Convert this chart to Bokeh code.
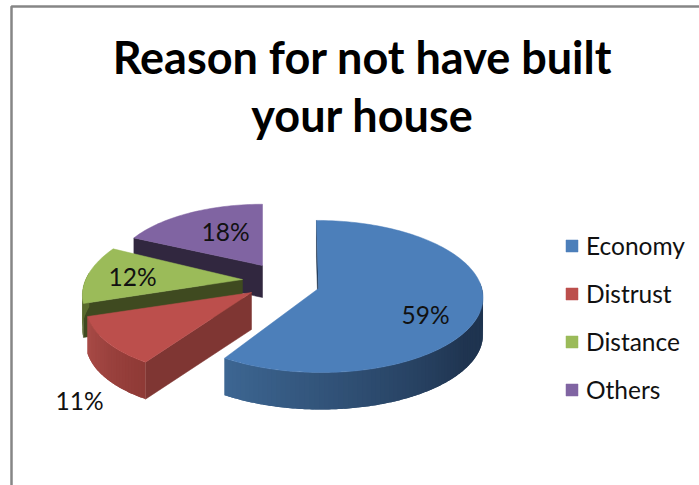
import math
from bokeh.plotting import figure
from bokeh.models import Range1d, Legend, LegendItem
from bokeh.core.properties import value
from bokeh.embed import file_html
from bokeh.resources import INLINE

# data
categories = ["Economy", "Distrust", "Distance", "Others"]
shares = [59, 11, 12, 18]
title_lines = ["Reason for not have built", "your house"]

# styles and layout
top_colors = ["#4C7FBA", "#BC4F4C", "#9BBB59", "#8064A2"]
edge_colors = ["#1D3149", "#7F3633", "#3F4A20", "#31273F"]
wall_from = ["#1F3450", "#8F3A36", "#5A6B2E", "#31273F"]
wall_to = ["#3D6692", "#A94B47", "#5A6B2E", "#31273F"]
apex_x = [318, 251, 242, 262]
apex_y = [288, 292, 279, 265]
scale_x = [0.99, 0.99, 0.95, 0.90]
scale_y = [1.0, 1.0, 1.0, 0.90]
shear = [0.03, -0.143, -0.21, 0.0]
depth = [37, 37, 34, 32]
label_pos = [(425, 314), (79, 400), (132, 276), (225, 231)]
RX, RY, PERSP = 165.0, 75.2, 0.105
FONT = "Lato"

W, H = 699, 485
p = figure(width=W, height=H, x_range=Range1d(0, W), y_range=Range1d(H, 0),
           output_backend="svg", toolbar_location=None, min_border=0)
p.margin = (0, 0, 0, 0)
p.axis.visible = False
p.grid.visible = False
p.outline_line_color = None


def project(theta, i):
    u, v = math.sin(theta), math.cos(theta)
    w = 1 + PERSP * v
    y = -RY * scale_y[i] * v / w
    x = RX * scale_x[i] * u / w + shear[i] * y
    return apex_x[i] + x, apex_y[i] + y


def mix(a, b, t):
    ca = [int(a[k:k + 2], 16) for k in (1, 3, 5)]
    cb = [int(b[k:k + 2], 16) for k in (1, 3, 5)]
    return "#%02x%02x%02x" % tuple(round(x + (y - x) * t) for x, y in zip(ca, cb))


# frame
p.line([11, 11, W], [H, 6, 6], line_color="#868686", line_width=2.5)

total = sum(shares)
bounds = [0.0]
for s in shares:
    bounds.append(bounds[-1] + s / total * 2 * math.pi)

tops = {}
for i in [3, 2, 1, 0]:
    a0, a1 = bounds[i], bounds[i + 1]
    d = depth[i]
    # wall on the straight cut of the slice
    sx, sy = project(a0, i)
    ax_, ay_ = apex_x[i], apex_y[i]
    p.patch([ax_, sx, sx, ax_], [ay_, sy, sy + d, ay_ + d],
            fill_color=edge_colors[i], line_color=edge_colors[i], line_width=0.5)
    # shaded outer wall, only the part that faces the viewer
    lo, hi = max(a0, math.radians(85)), min(a1, math.radians(275))
    if hi > lo:
        n = max(2, int(math.degrees(hi - lo) / 1.5))
        xs, ys, cols = [], [], []
        for k in range(n):
            t0 = lo + (hi - lo) * k / n
            t1 = min(hi, lo + (hi - lo) * (k + 2) / n)  # overlap the next strip
            strip = [project(t0 + (t1 - t0) * j / 4, i) for j in range(5)]
            xs.append([q[0] for q in strip] + [q[0] for q in reversed(strip)])
            ys.append([q[1] for q in strip] + [q[1] + d for q in reversed(strip)])
            f = k / max(1, n - 1)
            if i == 0:
                f = max(0.0, (f - 0.3) / 0.7)
            cols.append(mix(wall_from[i], wall_to[i], f))
        p.patches(xs, ys, fill_color=cols, line_color=None)
    # top surface
    m = max(2, int(math.degrees(a1 - a0) / 1.5))
    pts = [project(a0 + (a1 - a0) * k / m, i) for k in range(m + 1)]
    tops[i] = p.patch([ax_] + [q[0] for q in pts], [ay_] + [q[1] for q in pts],
                      fill_color=top_colors[i], line_color=top_colors[i], line_width=0.5)

# percentage labels
p.text([q[0] for q in label_pos], [q[1] for q in label_pos],
       text=[f"{s}%" for s in shares], text_align="center", text_baseline="middle",
       text_font=value(FONT), text_font_size="24.5px", text_color="#111111")

# title
p.text([362, 362], [56, 114], text=title_lines, text_align="center", text_baseline="middle",
       text_font=value(FONT), text_font_style="bold", text_font_size="45px", text_color="#000000")

legend = Legend(
    items=[LegendItem(label=c, renderers=[tops[i]]) for i, c in enumerate(categories)],
    location=(564, 81), orientation="vertical", padding=0, margin=0,
    spacing=19, glyph_width=15, glyph_height=15, label_height=20, label_standoff=7,
    label_text_font=FONT, label_text_font_size="24.5px", label_text_color="#111111",
    background_fill_alpha=0, border_line_color=None,
)
p.add_layout(legend)

open("out.html", "w").write(file_html(p, INLINE))
